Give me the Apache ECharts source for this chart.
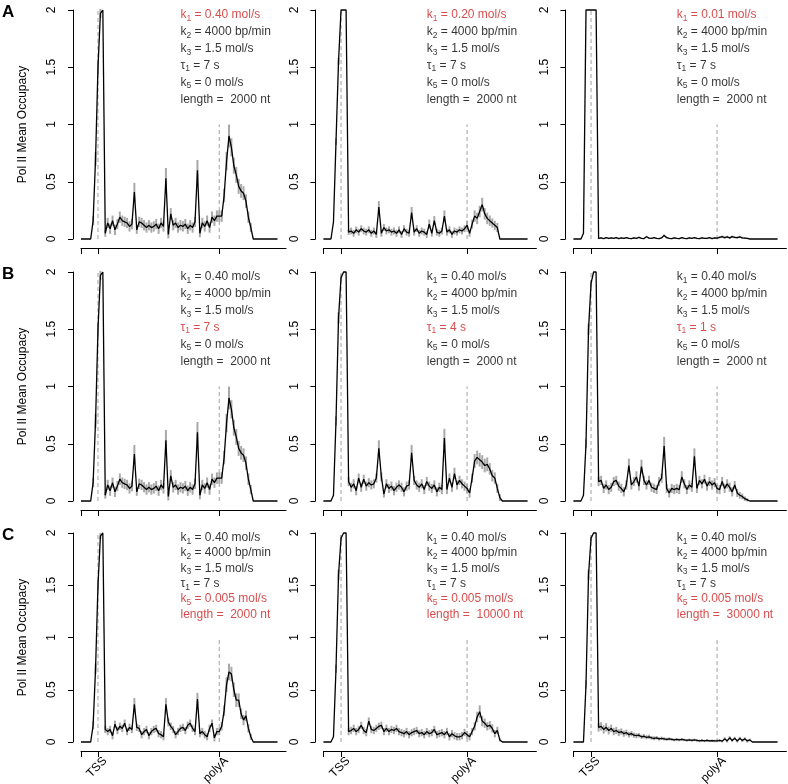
<!DOCTYPE html>
<html><head><meta charset="utf-8">
<script src="https://cdn.jsdelivr.net/npm/echarts@6/dist/echarts.min.js"></script>
<style>html,body{margin:0;padding:0;background:#fff}#c{width:788px;height:784px}</style>
</head><body><div id="c"></div>
<script>
// positions along the gene (TSS = 0, polyA = 100)
const pos = [-14,-12,-10,-8,-6,-4,-2,0,2,4,
  6,8,10,12,14,16,18,20,22,24,
  26,28,30,32,34,36,38,40,42,44,
  46,48,50,52,54,56,58,60,62,64,
  66,68,70,72,74,76,78,80,82,84,
  86,88,90,92,94,96,98,100,102,104,
  106,108,110,112,114,116,118,120,122,124,
  126,128,130,132,134,136,138,140,142,144,
  146,148];

const a1 = [0,0,0,0,0,0.16,0.7,1.5,1.97,2,
  0.05,0.14,0.09,0.16,0.08,0.13,0.19,0.16,0.15,0.14,
  0.11,0.13,0.41,0.08,0.15,0.14,0.12,0.1,0.12,0.1,
  0.11,0.13,0.09,0.14,0.11,0.53,0.04,0.22,0.12,0.14,
  0.1,0.12,0.11,0.13,0.09,0.12,0.1,0.15,0.6,0.05,
  0.14,0.11,0.16,0.1,0.19,0.16,0.2,0.2,0.2,0.38,
  0.68,0.9,0.8,0.64,0.56,0.46,0.42,0.4,0.33,0.19,
  0.1,0,0,0,0,0,0,0,0,0,
  0,0];
const a1Err = [0,0,0,0,0,0.04,0.06,0.06,0.04,0,
  0.03,0.045,0.045,0.045,0.045,0.045,0.05,0.045,0.045,0.045,
  0.045,0.045,0.08,0.035,0.045,0.045,0.045,0.045,0.045,0.045,
  0.045,0.045,0.045,0.045,0.045,0.09,0.035,0.05,0.045,0.045,
  0.045,0.045,0.045,0.045,0.045,0.045,0.045,0.045,0.09,0.035,
  0.045,0.045,0.045,0.045,0.05,0.045,0.05,0.05,0.05,0.06,
  0.08,0.1,0.08,0.07,0.07,0.065,0.06,0.06,0.06,0.05,
  0.04,0,0,0,0,0,0,0,0,0,
  0,0];

const a2 = [0,0,0,0,0.15,0.85,1.55,2,2,2,
  0.06,0.07,0.05,0.08,0.06,0.09,0.07,0.06,0.08,0.05,
  0.07,0.04,0.28,0.05,0.1,0.07,0.08,0.06,0.07,0.05,
  0.08,0.04,0.09,0.06,0.05,0.23,0.06,0.09,0.05,0.07,
  0.06,0.04,0.13,0.05,0.16,0.06,0.05,0.07,0.2,0.06,
  0.08,0.04,0.07,0.06,0.08,0.07,0.09,0.12,0.05,0.13,
  0.2,0.18,0.24,0.3,0.22,0.18,0.16,0.14,0.12,0.1,
  0,0,0,0,0,0,0,0,0,0,
  0,0];
const a2Err = [0,0,0,0,0,0.03,0.03,0,0,0,
  0.025,0.03,0.03,0.03,0.03,0.03,0.03,0.03,0.03,0.03,
  0.03,0.03,0.05,0.03,0.03,0.03,0.03,0.03,0.03,0.03,
  0.03,0.03,0.03,0.03,0.03,0.05,0.03,0.03,0.03,0.03,
  0.03,0.03,0.04,0.03,0.04,0.03,0.03,0.03,0.05,0.03,
  0.03,0.03,0.03,0.03,0.03,0.03,0.03,0.04,0.03,0.04,
  0.05,0.05,0.05,0.06,0.05,0.05,0.045,0.04,0.04,0.04,
  0,0,0,0,0,0,0,0,0,0,
  0,0];

const a3 = [0,0,0,0,0.05,2,2,2,2,2,
  0.005,0.01,0.004,0.012,0.005,0.01,0.006,0.012,0.004,0.01,
  0.005,0.012,0.006,0.004,0.01,0.005,0.014,0.006,0.004,0.02,
  0.008,0.006,0.012,0.005,0.004,0.01,0.03,0.012,0.005,0.004,
  0.01,0.006,0.004,0.012,0.005,0.004,0.01,0.006,0.012,0.005,
  0.004,0.01,0.006,0.005,0.012,0.004,0.01,0.008,0.015,0.02,
  0.012,0.018,0.01,0.02,0.015,0.012,0.018,0.01,0.008,0.005,
  0,0,0,0,0,0,0,0,0,0,
  0,0];
const a3Err = [0,0,0,0,0,0,0,0,0,0,
  0.006,0.006,0.006,0.006,0.006,0.006,0.006,0.006,0.006,0.006,
  0.006,0.006,0.006,0.006,0.006,0.006,0.006,0.006,0.006,0.008,
  0.006,0.006,0.006,0.006,0.006,0.006,0.01,0.006,0.006,0.006,
  0.006,0.006,0.006,0.006,0.006,0.006,0.006,0.006,0.006,0.006,
  0.006,0.006,0.006,0.006,0.006,0.006,0.006,0.01,0.01,0.01,
  0.01,0.01,0.01,0.01,0.01,0.01,0.01,0.01,0.008,0.006,
  0,0,0,0,0,0,0,0,0,0,
  0,0];

const b1 = a1;
const b1Err = a1Err;

const b2 = [0,0,0,0,0.05,0.7,1.6,1.95,2,2,
  0.17,0.12,0.15,0.09,0.2,0.12,0.19,0.13,0.16,0.14,
  0.15,0.2,0.46,0.21,0.06,0.15,0.11,0.13,0.09,0.12,
  0.14,0.12,0.08,0.13,0.14,0.42,0.18,0.14,0.12,0.15,
  0.1,0.17,0.13,0.11,0.14,0.08,0.12,0.1,0.55,0.1,
  0.2,0.12,0.24,0.14,0.18,0.15,0.13,0.11,0.07,0.2,
  0.35,0.38,0.36,0.34,0.31,0.32,0.28,0.22,0.2,0.11,
  0.03,0,0,0,0,0,0,0,0,0,
  0,0];
const b2Err = [0,0,0,0,0,0.04,0.05,0.03,0,0,
  0.04,0.04,0.04,0.04,0.04,0.04,0.04,0.04,0.04,0.04,
  0.04,0.04,0.07,0.04,0.03,0.04,0.04,0.04,0.04,0.04,
  0.04,0.04,0.04,0.04,0.04,0.07,0.04,0.04,0.04,0.04,
  0.04,0.04,0.04,0.04,0.04,0.04,0.04,0.04,0.08,0.04,
  0.04,0.04,0.05,0.04,0.04,0.04,0.04,0.04,0.04,0.04,
  0.06,0.06,0.06,0.06,0.06,0.06,0.05,0.05,0.05,0.04,
  0.03,0,0,0,0,0,0,0,0,0,
  0,0];

const b3 = [0,0,0,0,0.05,0.5,1.5,1.9,2,2,
  0.17,0.18,0.11,0.14,0.1,0.12,0.17,0.18,0.13,0.11,
  0.08,0.14,0.31,0.14,0.17,0.21,0.13,0.3,0.18,0.14,
  0.18,0.12,0.11,0.1,0.17,0.2,0.48,0.11,0.07,0.11,
  0.1,0.11,0.1,0.21,0.15,0.1,0.14,0.12,0.39,0.11,
  0.18,0.15,0.19,0.13,0.17,0.14,0.16,0.11,0.1,0.17,
  0.11,0.15,0.12,0.08,0.14,0.07,0.05,0.04,0.02,0.01,
  0,0,0,0,0,0,0,0,0,0,
  0,0];
const b3Err = [0,0,0,0,0,0.04,0.05,0.03,0,0,
  0.04,0.04,0.04,0.04,0.04,0.04,0.04,0.04,0.04,0.04,
  0.04,0.04,0.06,0.04,0.04,0.05,0.04,0.06,0.04,0.04,
  0.04,0.04,0.04,0.04,0.04,0.04,0.08,0.04,0.04,0.04,
  0.04,0.04,0.04,0.05,0.04,0.04,0.04,0.04,0.07,0.04,
  0.04,0.04,0.04,0.04,0.04,0.04,0.04,0.04,0.04,0.04,
  0.04,0.04,0.04,0.04,0.035,0.035,0.03,0.025,0.02,0.015,
  0,0,0,0,0,0,0,0,0,0,
  0,0];

const c1 = [0,0,0,0,0,0.16,0.7,1.5,1.97,2,
  0.12,0.1,0.12,0.06,0.17,0.11,0.15,0.13,0.18,0.1,
  0.14,0.12,0.36,0.14,0.13,0.07,0.1,0.12,0.06,0.1,
  0.12,0.13,0.08,0.07,0.05,0.36,0.19,0.15,0.12,0.07,
  0.1,0.13,0.14,0.11,0.16,0.18,0.13,0.1,0.41,0.08,
  0.1,0.07,0.05,0.13,0.18,0.04,0.1,0.1,0.15,0.3,
  0.55,0.67,0.65,0.5,0.4,0.4,0.27,0.21,0.25,0.13,
  0.05,0,0,0,0,0,0,0,0,0,
  0,0];
const c1Err = [0,0,0,0,0,0.04,0.05,0.05,0.03,0,
  0.035,0.035,0.035,0.035,0.035,0.035,0.035,0.035,0.035,0.035,
  0.035,0.035,0.06,0.035,0.035,0.035,0.035,0.035,0.035,0.035,
  0.035,0.035,0.035,0.035,0.035,0.06,0.04,0.035,0.035,0.035,
  0.035,0.035,0.035,0.035,0.035,0.035,0.035,0.035,0.06,0.035,
  0.035,0.035,0.035,0.035,0.035,0.035,0.035,0.035,0.04,0.05,
  0.07,0.08,0.07,0.07,0.065,0.065,0.05,0.05,0.05,0.04,
  0.03,0,0,0,0,0,0,0,0,0,
  0,0];

const c2 = [0,0,0,0,0.05,0.7,1.6,1.95,2,2,
  0.1,0.11,0.13,0.1,0.12,0.16,0.11,0.09,0.2,0.12,
  0.11,0.13,0.15,0.16,0.1,0.13,0.1,0.12,0.11,0.13,
  0.1,0.09,0.08,0.1,0.07,0.09,0.1,0.11,0.08,0.09,
  0.07,0.1,0.08,0.09,0.12,0.07,0.08,0.09,0.07,0.1,
  0.05,0.08,0.06,0.05,0.05,0.06,0.09,0.07,0.05,0.1,
  0.15,0.24,0.29,0.2,0.18,0.15,0.16,0.13,0.08,0.11,
  0.02,0,0,0,0,0,0,0,0,0,
  0,0];
const c2Err = [0,0,0,0,0,0.04,0.05,0.03,0,0,
  0.035,0.035,0.035,0.035,0.035,0.035,0.035,0.035,0.035,0.035,
  0.035,0.035,0.035,0.035,0.035,0.035,0.035,0.035,0.035,0.035,
  0.035,0.035,0.035,0.035,0.035,0.035,0.035,0.035,0.035,0.035,
  0.035,0.035,0.035,0.035,0.035,0.035,0.035,0.035,0.035,0.035,
  0.035,0.035,0.035,0.035,0.035,0.035,0.035,0.035,0.035,0.035,
  0.04,0.05,0.06,0.05,0.045,0.04,0.04,0.04,0.035,0.035,
  0.015,0,0,0,0,0,0,0,0,0,
  0,0];

const c3 = [0,0,0,0,0,0.55,1.6,1.95,2,2,
  0.14,0.15,0.12,0.14,0.11,0.13,0.1,0.11,0.09,0.1,
  0.08,0.09,0.07,0.08,0.065,0.06,0.065,0.05,0.055,0.045,
  0.05,0.04,0.035,0.04,0.03,0.035,0.03,0.025,0.03,0.025,
  0.02,0.025,0.02,0.025,0.02,0.015,0.02,0.015,0.02,0.015,
  0.01,0.015,0.01,0.015,0.01,0.012,0.01,0.01,0.015,0.008,
  0.03,0.01,0.04,0.015,0.035,0.01,0.035,0.015,0.03,0.01,
  0.02,0,0,0,0,0,0,0,0,0,
  0,0];
const c3Err = [0,0,0,0,0,0.04,0.05,0.03,0,0,
  0.04,0.04,0.04,0.04,0.038,0.036,0.035,0.034,0.032,0.03,
  0.03,0.028,0.027,0.026,0.025,0.024,0.022,0.021,0.02,0.02,
  0.019,0.018,0.018,0.017,0.016,0.016,0.015,0.015,0.014,0.014,
  0.013,0.013,0.013,0.012,0.012,0.012,0.012,0.012,0.012,0.012,
  0.012,0.012,0.012,0.012,0.012,0.012,0.012,0.012,0.012,0.012,
  0.015,0.015,0.015,0.015,0.015,0.015,0.015,0.015,0.015,0.015,
  0.012,0,0,0,0,0,0,0,0,0,
  0,0];

// axis ticks and labels
const xMin = -14, xMax = 155;
const xTicks = [-14, 0, 100];
const xLabelPos = [0, 100];
const xLabelText = ['TSS', 'polyA'];
const yTicks = [0, 0.5, 1, 1.5, 2];
const yTitle = 'Pol II Mean Occupacy';
const tssGuide = [0, 2];   // y extent of dashed TSS line
const polyAGuide = [0, 1]; // y extent of dashed polyA line
const rowLetters = ['A', 'B', 'C'];

// annotation text: [symbol, subscript, rest, isRed]
const txtA1 = [['k','1',' = 0.40 mol/s',1],['k','2',' = 4000 bp/min',0],['k','3',' = 1.5 mol/s',0],['τ','1',' = 7 s',0],['k','5',' = 0 mol/s',0],['length =  2000 nt','','',0]];
const txtA2 = [['k','1',' = 0.20 mol/s',1],['k','2',' = 4000 bp/min',0],['k','3',' = 1.5 mol/s',0],['τ','1',' = 7 s',0],['k','5',' = 0 mol/s',0],['length =  2000 nt','','',0]];
const txtA3 = [['k','1',' = 0.01 mol/s',1],['k','2',' = 4000 bp/min',0],['k','3',' = 1.5 mol/s',0],['τ','1',' = 7 s',0],['k','5',' = 0 mol/s',0],['length =  2000 nt','','',0]];
const txtB1 = [['k','1',' = 0.40 mol/s',0],['k','2',' = 4000 bp/min',0],['k','3',' = 1.5 mol/s',0],['τ','1',' = 7 s',1],['k','5',' = 0 mol/s',0],['length =  2000 nt','','',0]];
const txtB2 = [['k','1',' = 0.40 mol/s',0],['k','2',' = 4000 bp/min',0],['k','3',' = 1.5 mol/s',0],['τ','1',' = 4 s',1],['k','5',' = 0 mol/s',0],['length =  2000 nt','','',0]];
const txtB3 = [['k','1',' = 0.40 mol/s',0],['k','2',' = 4000 bp/min',0],['k','3',' = 1.5 mol/s',0],['τ','1',' = 1 s',1],['k','5',' = 0 mol/s',0],['length =  2000 nt','','',0]];
const txtC1 = [['k','1',' = 0.40 mol/s',0],['k','2',' = 4000 bp/min',0],['k','3',' = 1.5 mol/s',0],['τ','1',' = 7 s',0],['k','5',' = 0.005 mol/s',1],['length =  2000 nt','','',1]];
const txtC2 = [['k','1',' = 0.40 mol/s',0],['k','2',' = 4000 bp/min',0],['k','3',' = 1.5 mol/s',0],['τ','1',' = 7 s',0],['k','5',' = 0.005 mol/s',1],['length =  10000 nt','','',1]];
const txtC3 = [['k','1',' = 0.40 mol/s',0],['k','2',' = 4000 bp/min',0],['k','3',' = 1.5 mol/s',0],['τ','1',' = 7 s',0],['k','5',' = 0.005 mol/s',1],['length =  30000 nt','','',1]];
const textX = 68;
const textY = [1.955, 1.808, 1.661, 1.514, 1.367, 1.22];

const panels = [
  {vals:a1, err:a1Err, txt:txtA1}, {vals:a2, err:a2Err, txt:txtA2}, {vals:a3, err:a3Err, txt:txtA3},
  {vals:b1, err:b1Err, txt:txtB1}, {vals:b2, err:b2Err, txt:txtB2}, {vals:b3, err:b3Err, txt:txtB3},
  {vals:c1, err:c1Err, txt:txtC1}, {vals:c2, err:c2Err, txt:txtC2}, {vals:c3, err:c3Err, txt:txtC3}
];

const FONT = '"Liberation Sans", Arial, Helvetica, sans-serif';
const RED = '#cc2020';
const GUIDE = '#b0b0b0';
const layoutCols = [{left:81, width:205}, {left:323.4, width:213}, {left:573.4, width:213}];
const layoutRows = [{top:10, height:229}, {top:272, height:229}, {top:533, height:209}];

const grid = [], xAxis = [], yAxis = [], series = [];
panels.forEach((p, i) => {
  const r = Math.floor(i / 3), c = i % 3;
  grid.push({left: layoutCols[c].left, top: layoutRows[r].top, width: layoutCols[c].width,
    height: layoutRows[r].height, containLabel: false, outerBoundsMode: 'none'});
  xAxis.push({
    gridIndex: i, type: 'value', min: xMin, max: xMax, offset: 9,
    axisLine: {show: true, onZero: false, lineStyle: {color: '#000', width: 1}},
    axisTick: {show: true, customValues: xTicks, length: 6, lineStyle: {color: '#000', width: 1}},
    axisLabel: r === 2 ? {
      show: true, customValues: xLabelPos, rotate: 45, margin: 1, fontSize: 12, lineHeight: 20,
      color: '#000', fontFamily: FONT, verticalAlign: 'top',
      formatter: v => xLabelText[xLabelPos.indexOf(v)]
    } : {show: false},
    splitLine: {show: false}
  });
  yAxis.push({
    gridIndex: i, type: 'value', min: 0, max: 2, interval: 0.5, offset: 8,
    name: c === 0 ? yTitle : '', nameLocation: 'middle', nameGap: 44,
    nameTextStyle: {fontSize: 12, color: '#000', fontFamily: FONT},
    axisLine: {show: true, onZero: false, lineStyle: {color: '#000', width: 1}},
    axisTick: {show: true, length: 5, customValues: yTicks, lineStyle: {color: '#000', width: 1}},
    axisLabel: {show: true, rotate: 90, margin: 15, fontSize: 12, color: '#000', fontFamily: FONT,
      customValues: yTicks, formatter: v => String(v)},
    splitLine: {show: false}
  });
  const dashStyle = {color: GUIDE, width: 1.2, type: [4, 3]};
  series.push({type: 'line', xAxisIndex: i, yAxisIndex: i, data: tssGuide.map(y => [xLabelPos[0], y]),
    symbol: 'none', lineStyle: dashStyle, silent: true, z: 1});
  series.push({type: 'line', xAxisIndex: i, yAxisIndex: i, data: polyAGuide.map(y => [xLabelPos[1], y]),
    symbol: 'none', lineStyle: dashStyle, silent: true, z: 1});
  series.push({type: 'custom', xAxisIndex: i, yAxisIndex: i, silent: true, z: 2,
    data: pos.map((x, k) => [x, p.vals[k], p.err[k]]),
    encode: {x: 0, y: 1},
    renderItem: (params, api) => {
      const x = api.value(0), y = api.value(1), e = api.value(2);
      if (!e) return {type: 'group', children: []};
      const p1 = api.coord([x, y - e]), p2 = api.coord([x, y + e]);
      return {type: 'line', shape: {x1: p1[0], y1: p1[1], x2: p2[0], y2: p2[1]},
        style: {stroke: '#a8a8a8', lineWidth: 2}};
    }});
  series.push({type: 'line', xAxisIndex: i, yAxisIndex: i, data: pos.map((x, k) => [x, p.vals[k]]),
    symbol: 'none', clip: false, lineStyle: {color: '#000', width: 1.3}, z: 3, silent: true});
  series.push({type: 'scatter', xAxisIndex: i, yAxisIndex: i, symbolSize: 0, silent: true, z: 4,
    data: textY.map((y, k) => [textX, y, k]),
    label: {show: true, position: 'right', distance: 0,
      formatter: prm => {
        const t = p.txt[prm.value[2]];
        const n = t[3] ? 'r' : 'n', s = t[3] ? 'rs' : 's';
        let out = '{' + n + '|' + t[0] + '}';
        if (t[1]) out += '{' + s + '|' + t[1] + '}';
        if (t[2]) out += '{' + n + '|' + t[2] + '}';
        return out;
      },
      rich: {
        n: {fontSize: 12, color: '#000', fontFamily: FONT, lineHeight: 16},
        r: {fontSize: 12, color: RED, fontFamily: FONT, lineHeight: 16},
        s: {fontSize: 8.5, color: '#000', fontFamily: FONT, lineHeight: 10, verticalAlign: 'bottom'},
        rs: {fontSize: 8.5, color: RED, fontFamily: FONT, lineHeight: 10, verticalAlign: 'bottom'}
      }
    }});
});

const graphic = rowLetters.map((L, r) => ({
  type: 'text', left: 2, top: layoutRows[r].top - 6,
  style: {text: L, font: 'bold 17px ' + FONT, fill: '#000'}
}));

const chart = echarts.init(document.getElementById('c'), null, {renderer: 'canvas'});
chart.setOption({animation: false, backgroundColor: '#fff', grid, xAxis, yAxis, series, graphic});
</script></body></html>
